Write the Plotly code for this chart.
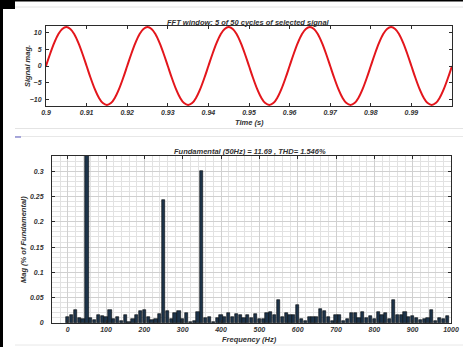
import plotly.graph_objects as go

# ---------------- data ----------------
time_s = [round(0.9 + i * 0.001, 3) for i in range(101)]
signal_mag = [
    0.00, 3.61, 6.87, 9.46, 11.12, 11.69, 11.12, 9.46, 6.87, 3.61,
    0.00, -3.61, -6.87, -9.46, -11.12, -11.69, -11.12, -9.46, -6.87, -3.61,
    0.00, 3.61, 6.87, 9.46, 11.12, 11.69, 11.12, 9.46, 6.87, 3.61,
    0.00, -3.61, -6.87, -9.46, -11.12, -11.69, -11.12, -9.46, -6.87, -3.61,
    0.00, 3.61, 6.87, 9.46, 11.12, 11.69, 11.12, 9.46, 6.87, 3.61,
    0.00, -3.61, -6.87, -9.46, -11.12, -11.69, -11.12, -9.46, -6.87, -3.61,
    0.00, 3.61, 6.87, 9.46, 11.12, 11.69, 11.12, 9.46, 6.87, 3.61,
    0.00, -3.61, -6.87, -9.46, -11.12, -11.69, -11.12, -9.46, -6.87, -3.61,
    0.00, 3.61, 6.87, 9.46, 11.12, 11.69, 11.12, 9.46, 6.87, 3.61,
    0.00, -3.61, -6.87, -9.46, -11.12, -11.69, -11.12, -9.46, -6.87, -3.61,
    0.00,
]

freq_hz = list(range(0, 1000, 10))
mag_pct = [
    0.011, 0.015, 0.025, 0.010, 0.008, 100.0, 0.010, 0.006, 0.016, 0.013,
    0.012, 0.026, 0.008, 0.011, 0.003, 0.015, 0.002, 0.007, 0.015, 0.024,
    0.026, 0.011, 0.005, 0.008, 0.018, 0.243, 0.024, 0.008, 0.020, 0.024,
    0.008, 0.020, 0.002, 0.003, 0.022, 0.301, 0.010, 0.011, 0.002, 0.010,
    0.015, 0.012, 0.020, 0.011, 0.018, 0.016, 0.010, 0.016, 0.010, 0.018,
    0.008, 0.008, 0.020, 0.022, 0.015, 0.045, 0.012, 0.020, 0.016, 0.016,
    0.035, 0.007, 0.003, 0.012, 0.012, 0.012, 0.028, 0.023, 0.011, 0.003,
    0.016, 0.016, 0.003, 0.007, 0.019, 0.019, 0.010, 0.022, 0.010, 0.014,
    0.008, 0.022, 0.016, 0.020, 0.007, 0.046, 0.016, 0.016, 0.022, 0.011,
    0.014, 0.010, 0.006, 0.008, 0.010, 0.026, 0.003, 0.010, 0.008, 0.014,
]

top_xticks = [0.9, 0.91, 0.92, 0.93, 0.94, 0.95, 0.96, 0.97, 0.98, 0.99]
top_xlabels = ["0.9", "0.91", "0.92", "0.93", "0.94", "0.95", "0.96", "0.97", "0.98", "0.99"]
top_yticks = [-10, -5, 0, 5, 10]
bot_xticks = [0, 100, 200, 300, 400, 500, 600, 700, 800, 900, 1000]
bot_yticks = [0, 0.05, 0.1, 0.15, 0.2, 0.25, 0.3]
bot_ylabels = ["0", "0.05", "0.1", "0.15", "0.2", "0.25", "0.3"]

title_top = "FFT window: 5 of 50 cycles of selected signal"
title_bot = "Fundamental (50Hz) = 11.69 , THD= 1.546%"

# ---------------- layout helpers ----------------
W, H = 463, 347
def px(x):
    return x / W
def py(y):
    return 1 - y / H

FAM = "Liberation Sans, Arial, sans-serif"
tickfont = dict(family=FAM, size=7, color="#333333", weight="bold", style="italic")
labfont = dict(family=FAM, size=7.5, color="#333333", weight="bold", style="italic")

fig = go.Figure()
fig.add_trace(go.Scatter(
    x=time_s, y=signal_mag, mode="lines", line=dict(color="#e3161c", width=2, shape="spline"),
    xaxis="x", yaxis="y", showlegend=False, hoverinfo="skip"))
fig.add_trace(go.Bar(
    x=freq_hz, y=mag_pct, width=8.5,
    marker=dict(color="#1d3349", line=dict(color="#05080c", width=0.6)),
    xaxis="x2", yaxis="y2", showlegend=False))

axis_common = dict(showline=True, linecolor="#2b2b2b", linewidth=1, mirror="ticks",
                   ticks="inside", ticklen=3, tickcolor="#2b2b2b", zeroline=False,
                   tickfont=tickfont, automargin=False)

fig.update_layout(
    width=W, height=H, margin=dict(l=0, r=0, t=0, b=0),
    paper_bgcolor="white", plot_bgcolor="white", bargap=0,
    xaxis=dict(domain=[px(46), px(452)], range=[0.9, 1.0], tickvals=top_xticks,
               ticktext=top_xlabels, showgrid=False, anchor="y", **axis_common),
    yaxis=dict(domain=[py(106), py(26)], range=[-12, 12], tickvals=top_yticks,
               showgrid=False, anchor="x", ticklabelstandoff=2, **axis_common),
    xaxis2=dict(domain=[px(52), px(451)], range=[-41, 1000], tickvals=bot_xticks,
                showgrid=True, gridcolor="#d0d0d0", gridwidth=0.8,
                minor=dict(dtick=20, tick0=0, showgrid=True, gridcolor="#e2e2e2", gridwidth=0.6, ticks=""),
                anchor="y2", **axis_common),
    yaxis2=dict(domain=[py(323), py(156)], range=[0, 0.33], tickvals=bot_yticks,
                ticktext=bot_ylabels, showgrid=True, gridcolor="#d0d0d0", gridwidth=0.8,
                minor=dict(dtick=0.01, tick0=0, showgrid=True, gridcolor="#e2e2e2", gridwidth=0.6, ticks=""),
                anchor="x2", ticklabelstandoff=6, **axis_common),
)

annos = [
    dict(text=title_top, x=px(249), y=py(22), font=labfont),
    dict(text="Time (s)", x=px(250), y=py(122.5), font=labfont),
    dict(text="Signal mag.", x=px(27), y=py(66), font=labfont, textangle=-90),
    dict(text=title_bot, x=px(250), y=py(151.5), font=labfont),
    dict(text="Frequency (Hz)", x=px(250), y=py(339), font=labfont),
    dict(text="Mag (% of Fundamental)", x=px(23), y=py(240), font=labfont, textangle=-90),
]
for a in annos:
    fig.add_annotation(xref="paper", yref="paper", showarrow=False,
                       xanchor="center", yanchor="middle", **a)

shapes = [
    dict(type="rect", x0=0, x1=px(3), y0=0, y1=1, fillcolor="black", line_width=0),
    dict(type="rect", x0=0, x1=1, y0=py(1.5), y1=1, fillcolor="black", line_width=0),
    dict(type="rect", x0=0, x1=px(15), y0=py(9), y1=1, fillcolor="black", line_width=0),
    dict(type="line", x0=px(15), x1=1, y0=py(7), y1=py(7), line=dict(color="#e4e4e4", width=1)),
    dict(type="line", x0=px(15), x1=1, y0=py(128.5), y1=py(128.5), line=dict(color="#e4e4e4", width=1)),
    dict(type="line", x0=px(15), x1=1, y0=py(136.5), y1=py(136.5), line=dict(color="#e8e8e8", width=1)),
    dict(type="line", x0=px(15), x1=1, y0=py(345), y1=py(345), line=dict(color="#e8e8e8", width=1)),
    dict(type="line", x0=px(15), x1=px(21), y0=py(137), y1=py(137), line=dict(color="#8c8cd0", width=1.5)),
]
for s in shapes:
    fig.add_shape(xref="paper", yref="paper", layer="above", **s)

fig.write_html(
    "out.html",
    config={"displayModeBar": False},
    post_script="document.body.style.margin='0';document.body.style.overflow='hidden';",
)
